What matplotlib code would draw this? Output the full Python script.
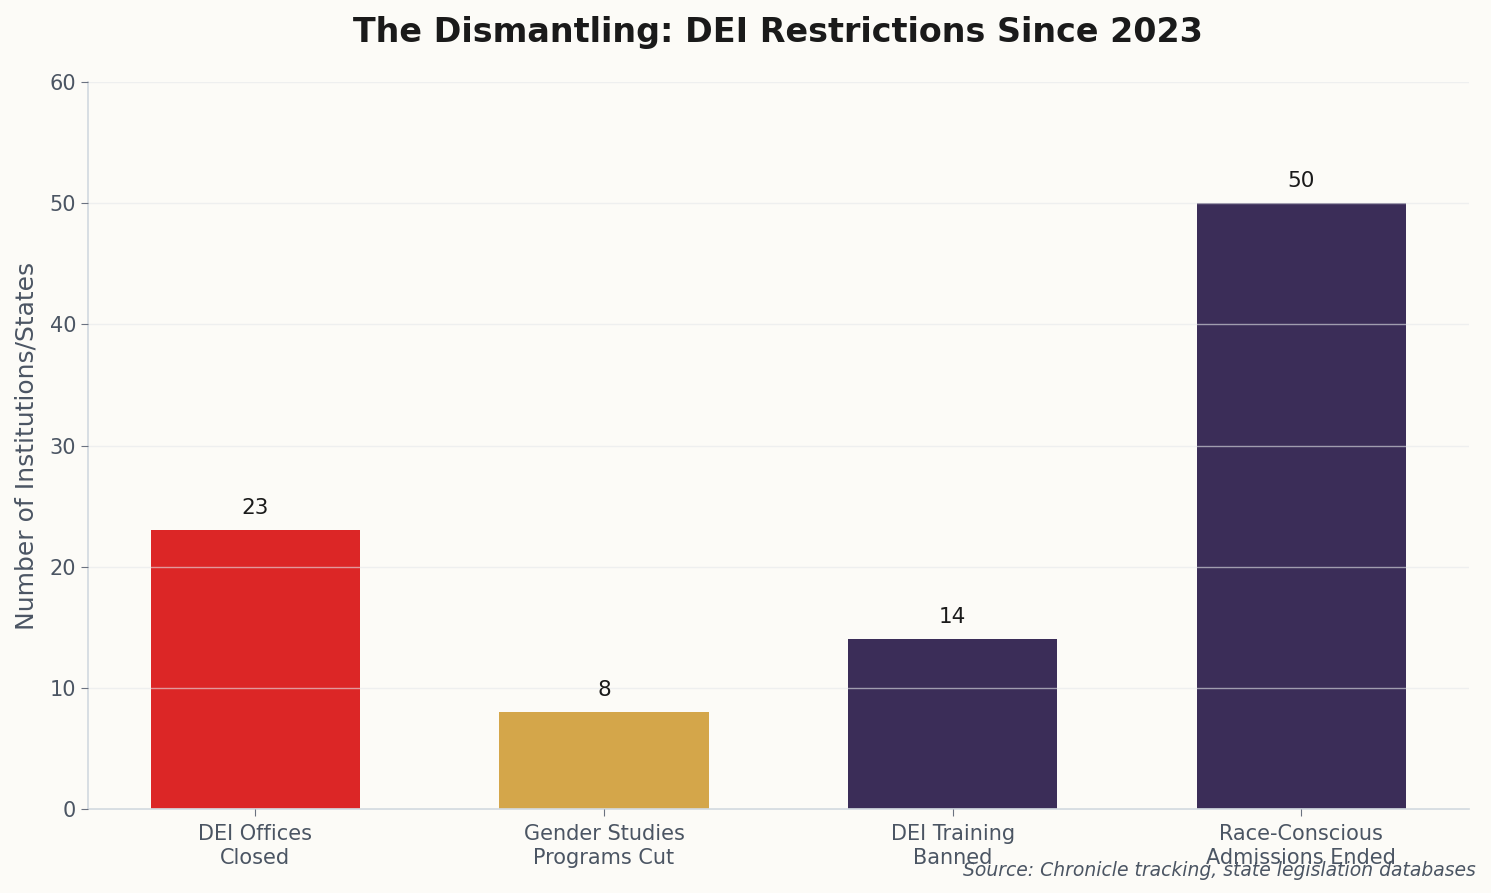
import matplotlib
matplotlib.use('Agg')
import matplotlib.pyplot as plt
import numpy as np

categories = ['DEI Offices\nClosed', 'Gender Studies\nPrograms Cut', 'DEI Training\nBanned', 'Race-Conscious\nAdmissions Ended']
values = [23, 8, 14, 50]
colors = ['#dc2626', '#d4a64a', '#3b2d58', '#3b2d58']

bg = '#fcfbf7'
text_gray = '#4b5563'

fig, ax = plt.subplots(figsize=(14.91, 8.93), dpi=100)
fig.patch.set_facecolor(bg)
ax.set_facecolor(bg)

x = np.arange(len(categories))
bars = ax.bar(x, values, width=0.6, color=colors, zorder=2)
for b, v in zip(bars, values):
    ax.text(b.get_x() + b.get_width() / 2, v + 1, str(v), ha='center', va='bottom',
            fontsize=15.5, color='#1a1a1a')

ax.set_ylim(0, 60)
ax.set_xticks(x)
ax.set_xticklabels(categories, fontsize=15, color=text_gray)
ax.tick_params(axis='y', labelsize=15, labelcolor=text_gray)
ax.tick_params(axis='x', pad=6)
ax.tick_params(axis='both', color='#6b7280', length=5)
ax.set_ylabel('Number of Institutions/States', fontsize=18, color=text_gray, labelpad=8)
ax.set_title('The Dismantling: DEI Restrictions Since 2023', fontsize=24, fontweight='bold',
             color='#1a1a1a', pad=29)

ax.yaxis.grid(True, color='#e5e7eb', linewidth=1, alpha=0.6, zorder=3)
ax.set_axisbelow(False)
for s in ['top', 'right']:
    ax.spines[s].set_visible(False)
for s in ['left', 'bottom']:
    ax.spines[s].set_color('#d1d9e0')
    ax.spines[s].set_linewidth(1.2)

fig.text(0.99, 0.015, 'Source: Chronicle tracking, state legislation databases', ha='right', va='bottom',
         fontsize=13.5, style='italic', color=text_gray)

plt.subplots_adjust(left=0.059, right=0.985, top=0.908, bottom=0.094)
fig.savefig('out.png', dpi=100, facecolor=bg)
